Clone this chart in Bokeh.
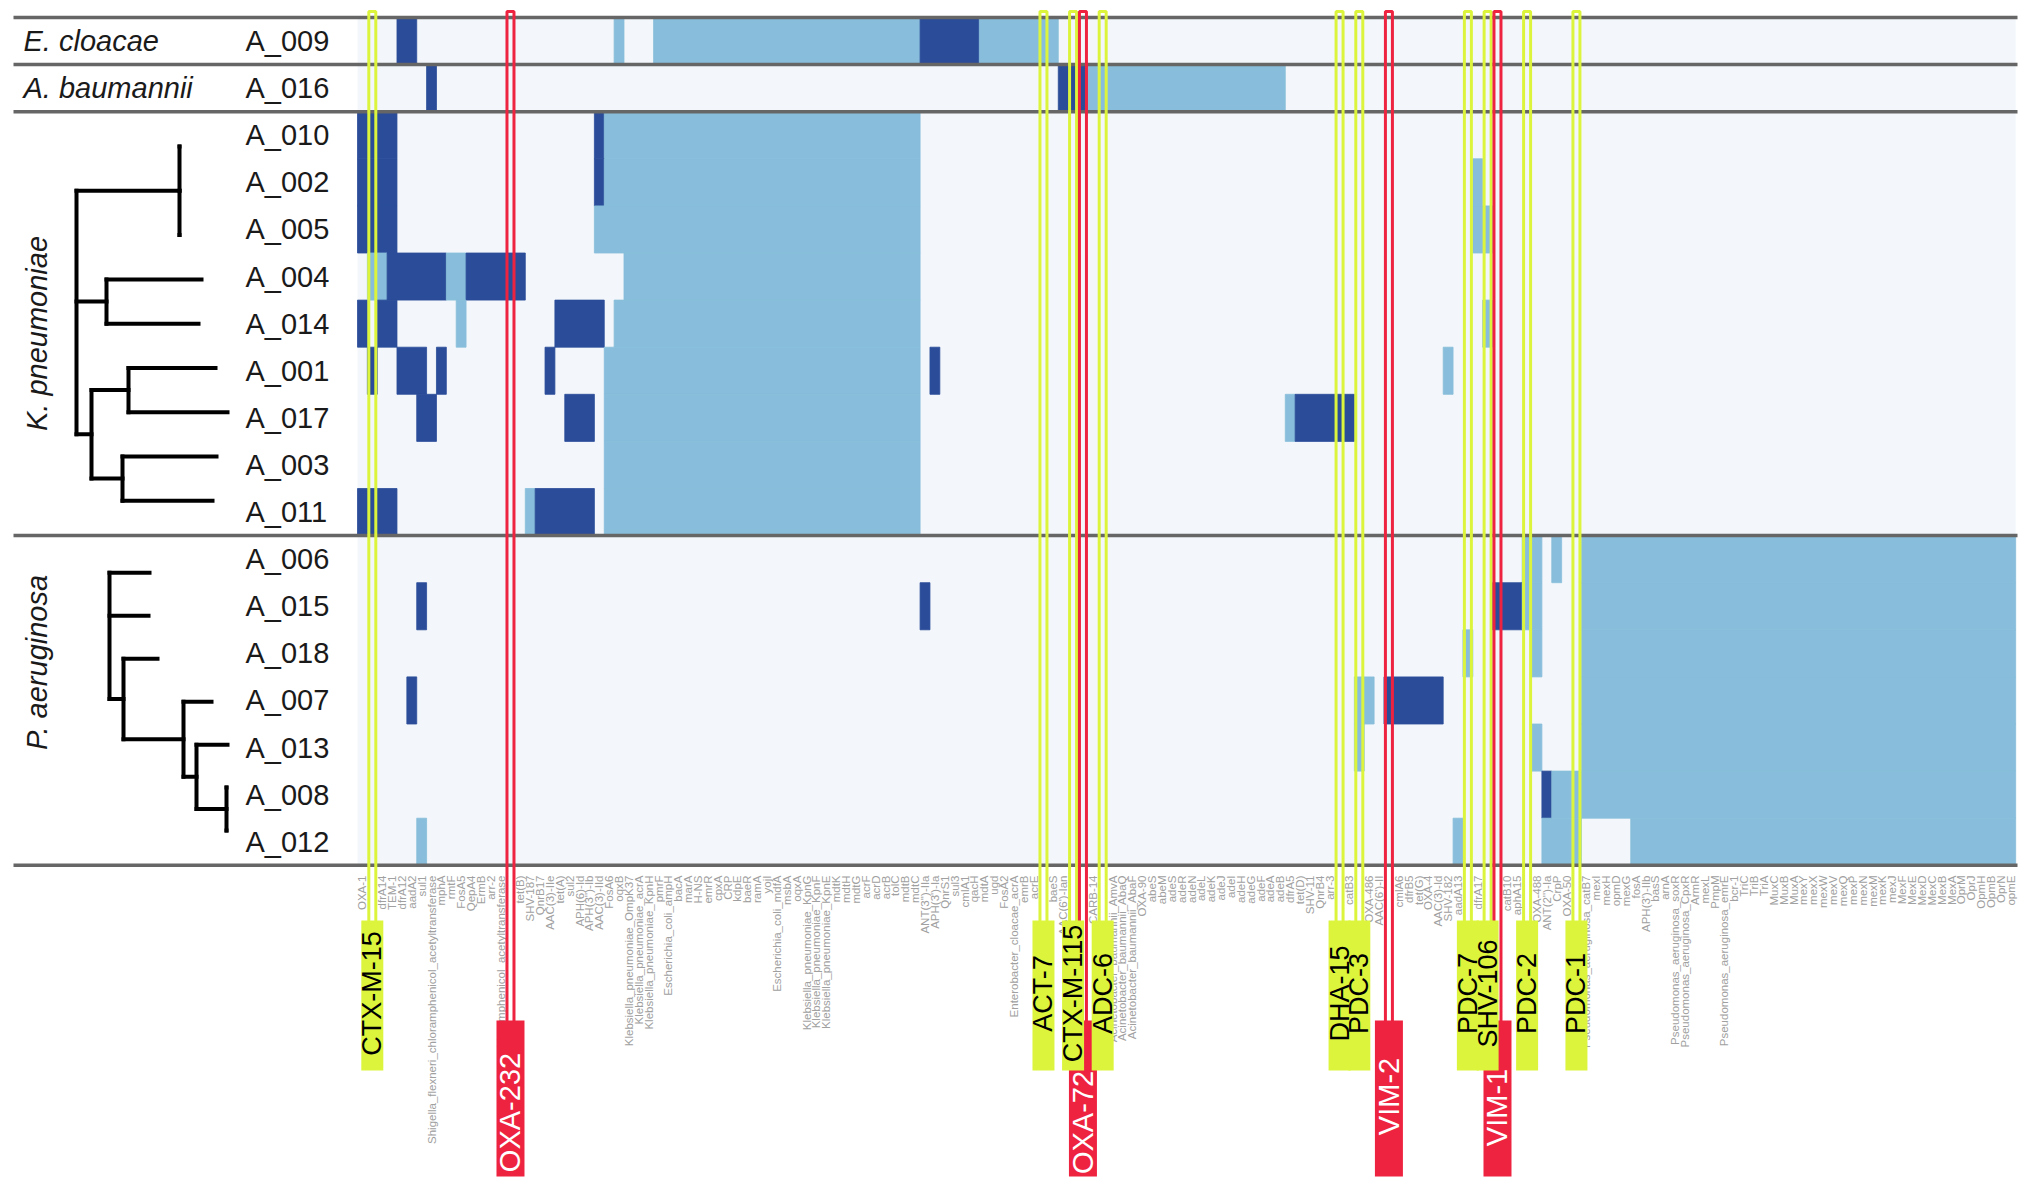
import math
from bokeh.plotting import figure
from bokeh.models import Range1d, ColumnDataSource
from bokeh.embed import file_html
from bokeh.resources import INLINE
from bokeh.core.properties import value

# ---------------- data ----------------
genes = [
    "OXA-1", "CTX-M-15", "dfrA14", "TEM-1", "dfrA12", "aadA2", "sul1",
    "Shigella_flexneri_chloramphenicol_acetyltransferase", "mphA", "rmtF", "FosA5", "QepA4", "ErmB", "arr-2",
    "chloramphenicol_acetyltransferase", "OXA-232", "tet(B)", "SHV-187", "QnrB17", "AAC(3)-IIe", "tet(A)", "sul2",
    "APH(6)-Id", "APH(3'')-Ib", "AAC(3)-IId", "FosA6", "oqxB", "Klebsiella_pneumoniae_OmpK37",
    "Klebsiella_pneumoniae_acrA", "Klebsiella_pneumoniae_KpnH", "pmrF", "Escherichia_coli_ampH", "bacA", "marA",
    "H-NS", "emrR", "cpxA", "CRP", "kdpE", "baeR", "ramA", "yojI", "Escherichia_coli_mdfA", "msbA", "oqxA",
    "Klebsiella_pneumoniae_KpnG", "Klebsiella_pneumoniae_KpnF", "Klebsiella_pneumoniae_KpnE", "mdtK", "mdtH", "mdtG",
    "acrF", "acrD", "acrB", "tolC", "mdtB", "mdtC", "ANT(3'')-IIa", "APH(3')-Ia", "QnrS1", "sul3", "cmlA1", "qacH",
    "mdtA", "ugd", "FosA2", "Enterobacter_cloacae_acrA", "emrB", "acrE", "ACT-7", "baeS", "AAC(6')-Ian", "CTX-M-115",
    "OXA-72", "CARB-14", "ADC-6", "Acinetobacter_baumannii_AmvA", "Acinetobacter_baumannii_AbaQ",
    "Acinetobacter_baumannii_AbaF", "OXA-90", "abeS", "abeM", "adeS", "adeR", "adeN", "adeL", "adeK", "adeJ", "adeI",
    "adeH", "adeG", "adeF", "adeA", "adeB", "dfrA5", "tet(D)", "SHV-11", "QnrB4", "arr-3", "DHA-15", "catB3", "PDC-3",
    "OXA-486", "AAC(6')-II", "VIM-2", "cmlA6", "dfrB5", "tet(G)", "OXA-4", "AAC(3)-Id", "SHV-182", "aadA13", "PDC-7",
    "dfrA17", "SHV-106", "VIM-1", "catB10", "aphA15", "PDC-2", "OXA-488", "ANT(2'')-Ia", "CrpP", "OXA-50", "PDC-1",
    "Pseudomonas_aeruginosa_catB7", "mexI", "mexH", "opmD", "mexG", "fosA", "APH(3')-IIb", "basS", "arnA",
    "Pseudomonas_aeruginosa_soxR", "Pseudomonas_aeruginosa_CpxR", "ArmR", "mexL", "PmpM",
    "Pseudomonas_aeruginosa_emrE", "bcr-1", "TriC", "TriB", "TriA", "MuxC", "MuxB", "MuxA", "mexY", "mexX", "mexW",
    "mexV", "mexQ", "mexP", "mexN", "mexM", "mexK", "mexJ", "MexF", "MexE", "MexD", "MexC", "MexB", "MexA", "OprM",
    "OprJ", "OpmH", "OpmB", "OprN", "opmE",
]

samples = ["A_009", "A_016",
           "A_010", "A_002", "A_005", "A_004", "A_014", "A_001", "A_017", "A_003", "A_011",
           "A_006", "A_015", "A_018", "A_007", "A_013", "A_008", "A_012"]

species_single = {"A_009": "E. cloacae", "A_016": "A. baumannii"}
species_groups = ["K. pneumoniae", "P. aeruginosa"]

# hit level per sample: runs of (first gene index, last gene index, level); 1 = strict, 2 = perfect
hits = {
    "A_009": [(4, 5, 2), (26, 26, 1), (30, 56, 1), (57, 62, 2), (63, 70, 1)],
    "A_016": [(7, 7, 2), (71, 73, 2), (74, 93, 1)],
    "A_010": [(0, 3, 2), (24, 24, 2), (25, 56, 1)],
    "A_002": [(0, 3, 2), (24, 24, 2), (25, 56, 1), (113, 113, 1)],
    "A_005": [(0, 3, 2), (24, 56, 1), (113, 114, 1)],
    "A_004": [(1, 2, 1), (3, 8, 2), (9, 10, 1), (11, 16, 2), (27, 56, 1)],
    "A_014": [(0, 0, 2), (2, 3, 2), (10, 10, 1), (20, 24, 2), (26, 56, 1), (114, 114, 1)],
    "A_001": [(1, 1, 2), (4, 6, 2), (8, 8, 2), (19, 19, 2), (25, 56, 1), (58, 58, 2), (110, 110, 1)],
    "A_017": [(6, 7, 2), (21, 23, 2), (25, 56, 1), (94, 94, 1), (95, 100, 2)],
    "A_003": [(25, 56, 1)],
    "A_011": [(0, 3, 2), (17, 17, 1), (18, 23, 2), (25, 56, 1)],
    "A_006": [(118, 119, 1), (121, 121, 1), (124, 167, 1)],
    "A_015": [(6, 6, 2), (57, 57, 2), (115, 117, 2), (118, 119, 1), (124, 167, 1)],
    "A_018": [(112, 112, 1), (119, 119, 1), (124, 167, 1)],
    "A_007": [(5, 5, 2), (101, 102, 1), (104, 109, 2), (124, 167, 1)],
    "A_013": [(101, 101, 1), (119, 119, 1), (124, 167, 1)],
    "A_008": [(120, 120, 2), (121, 123, 1), (124, 167, 1)],
    "A_012": [(6, 6, 1), (111, 111, 1), (120, 123, 1), (129, 167, 1)],
}

lime_genes = ["CTX-M-15", "ACT-7", "CTX-M-115", "ADC-6", "DHA-15", "PDC-3", "PDC-7", "SHV-106", "PDC-2", "PDC-1"]
red_genes = ["OXA-232", "OXA-72", "VIM-2", "VIM-1"]

# dendrograms: (children, branch_length) for clades, (leaf, branch_length) for tips
k_tree = ([([("A_010", 0), ("A_002", 0), ("A_005", 0)], 103),
           ([("A_004", 95), ("A_014", 92)], 30),
           ([([("A_001", 87), ("A_017", 99)], 37), ([("A_003", 94), ("A_011", 90)], 31)], 15)], 0)
p_tree = ([("A_006", 40), ("A_015", 39),
           ([("A_018", 34), ([("A_007", 28), ([("A_013", 31), ([("A_008", 0), ("A_012", 0)], 30)], 13)], 60)], 14)], 0)

# ---------------- layout (pixels of the page) ----------------
W, H = 2023, 1183
CELL_W, ROW_H = 9.87, 47.1
X0_PAGE, Y0_PAGE = 357.0, 17.0

def dx(px):
    return (px - X0_PAGE) / CELL_W

def dy(py):
    return (py - Y0_PAGE) / ROW_H

BG = "#f3f7fb"
LIGHT = "#88bedb"
DARK = "#2b4d99"
LIME = "#dcf53c"
RED = "#ee2340"
SEP = "#666666"
FONT = "Liberation Sans"

p = figure(width=W, height=H, output_backend="svg", toolbar_location=None,
           x_range=Range1d(dx(0), dx(W)), y_range=Range1d(dy(H), dy(0)),
           x_axis_location=None, y_axis_location=None, min_border=0,
           background_fill_color="white", border_fill_color="white")
p.outline_line_color = None
p.grid.visible = False

n_genes = len(genes)
n_rows = len(samples)

# heatmap background cells
p.quad(left=[0], right=[n_genes], top=[0], bottom=[n_rows], fill_color=BG, line_color=None)

# hits
L, R, T, B, C = [], [], [], [], []
for i, s in enumerate(samples):
    for a, b, lev in hits[s]:
        L.append(a); R.append(b + 1); T.append(i); B.append(i + 1)
        C.append(LIGHT if lev == 1 else DARK)
p.quad(source=ColumnDataSource(dict(left=L, right=R, top=T, bottom=B, color=C)),
       left="left", right="right", top="top", bottom="bottom",
       fill_color="color", line_color="color", line_width=0.8)

# separators between species
sep_rows = [0, 1, 2, 11, 18]
p.segment(x0=[dx(13)] * len(sep_rows), x1=[dx(2017)] * len(sep_rows), y0=sep_rows, y1=sep_rows,
          line_color=SEP, line_width=3.5)

# gene labels (hidden where a badge is shown)
flag = set(lime_genes) | set(red_genes)
gx = [i + 0.5 for i, g in enumerate(genes) if g not in flag]
gt = [g for g in genes if g not in flag]
p.text(x=gx, y=[dy(875)] * len(gx), text=gt, angle=math.pi / 2, text_align="right",
       text_baseline="middle", text_font=value(FONT), text_font_size="11.5px", text_color="#a0a0a0")

# highlight outlines
def outline(glist, color, bottom_py):
    xs = [genes.index(g) + 0.5 for g in glist]
    w = 7.0 / CELL_W
    p.quad(left=[x - w / 2 for x in xs], right=[x + w / 2 for x in xs],
           top=[dy(11)] * len(xs), bottom=[dy(bottom_py)] * len(xs),
           fill_color=None, line_color=color, line_width=3)
    return xs

lx = outline(lime_genes, LIME, 925)
rx = outline(red_genes, RED, 1025)

# badges
bw_r = 28.0 / CELL_W
p.quad(left=[x - bw_r / 2 for x in rx], right=[x + bw_r / 2 for x in rx],
       top=[dy(1020)] * len(rx), bottom=[dy(1176)] * len(rx), fill_color=RED, line_color=None)
bw_l = 22.0 / CELL_W
p.quad(left=[x - bw_l / 2 for x in lx], right=[x + bw_l / 2 for x in lx],
       top=[dy(920)] * len(lx), bottom=[dy(1070)] * len(lx), fill_color=LIME, line_color=None)

red_text_py = [1112, 1122, 1096, 1107]
p.text(x=rx, y=[dy(v) for v in red_text_py], text=red_genes, angle=math.pi / 2, text_align="center",
       text_baseline="middle", text_font=value(FONT), text_font_size="29px", text_color="white")
p.text(x=lx, y=[dy(993)] * len(lx), text=lime_genes, angle=math.pi / 2, text_align="center",
       text_baseline="middle", text_font=value(FONT), text_font_size="27px", text_color="black")

# sample labels
p.text(x=[dx(245)] * n_rows, y=[i + 0.5 for i in range(n_rows)], text=samples, text_align="left",
       text_baseline="middle", text_font=value(FONT), text_font_size="29px", text_color="#1a1a1a")

# species labels
p.text(x=[dx(23)] * 2, y=[0.5, 1.5], text=[species_single["A_009"], species_single["A_016"]],
       text_align="left", text_baseline="middle", text_font=value(FONT), text_font_size="29px",
       text_font_style="italic", text_color="#1a1a1a")
p.text(x=[dx(36)] * 2, y=[dy(333), dy(662)], text=species_groups, angle=math.pi / 2,
       text_align="center", text_baseline="middle", text_font=value(FONT), text_font_size="29px",
       text_font_style="italic", text_color="#1a1a1a")

# dendrograms
def layout_tree(tree, root_px, leaf_start, leaf_step):
    xs0, ys0, xs1, ys1 = [], [], [], []
    counter = [0]

    def walk(node, x_parent_px):
        kids, bl = node
        x_px = x_parent_px + bl
        if isinstance(kids, str):
            y = leaf_start + leaf_step * counter[0]
            counter[0] += 1
            return x_px, y
        pts = [walk(k, x_px) for k in kids]
        for (cx, cy) in pts:
            xs0.append(dx(x_px)); xs1.append(dx(cx)); ys0.append(cy); ys1.append(cy)
        y = (pts[0][1] + pts[-1][1]) / 2
        xs0.append(dx(x_px)); xs1.append(dx(x_px)); ys0.append(pts[0][1]); ys1.append(pts[-1][1])
        return x_px, y

    walk(tree, root_px)
    return xs0, ys0, xs1, ys1

for tree, root_px, start, step in [(k_tree, 76, 2.74, 0.94), (p_tree, 109, 11.79, 0.912)]:
    a, b, c, d = layout_tree(tree, root_px, start, step)
    p.segment(x0=a, y0=b, x1=c, y1=d, line_color="black", line_width=4, line_cap="square")

open("out.html", "w").write(file_html(p, INLINE))
